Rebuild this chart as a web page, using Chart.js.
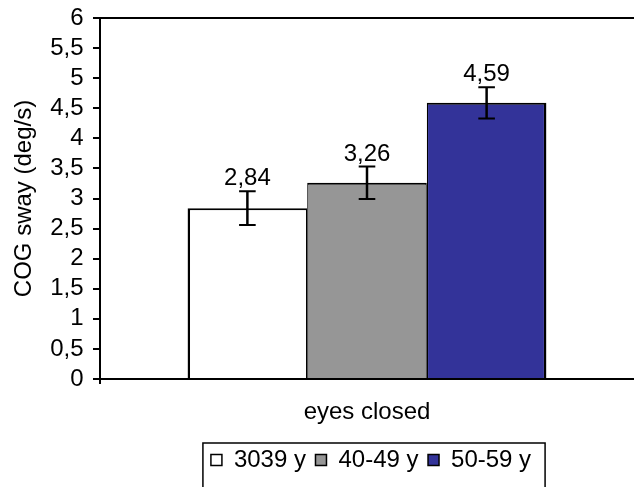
<!DOCTYPE html>
<html>
<head>
<meta charset="utf-8">
<script src="https://cdn.jsdelivr.net/npm/chart.js@4/dist/chart.umd.min.js"></script>
<style>
  html, body { margin: 0; padding: 0; background: #fff; }
  #chart { display: block; width: 634px; height: 487px; }
</style>
</head>
<body>
<canvas id="chart" width="634" height="487"></canvas>
<script>
// data
const categories = ["eyes closed"];
const groups = ["3039 y", "40-49 y", "50-59 y"];
const means = [2.84, 3.26, 4.59];
const errors = [0.28, 0.27, 0.26];
const fills = ["#ffffff", "#969696", "#333399"];

const SIZE = 24;
const FONT = "'Liberation Sans', Arial, Helvetica, sans-serif";

const fmt = v => String(v).replace(".", ",");

// borders: shared edges between neighbouring bars drawn once
const borders = [
  { left: 2.5, top: 2, right: 1.25, bottom: 0 },
  { left: 1.25, top: 2, right: 1.25, bottom: 0 },
  { left: 1.25, top: 2, right: 2.5, bottom: 0 }
];

const errorBars = {
  id: "errorBars",
  afterDatasetsDraw(chart) {
    const c = chart.ctx;
    const y = chart.scales.y;
    c.save();
    c.strokeStyle = "#000";
    c.fillStyle = "#000";
    c.font = SIZE + "px " + FONT;
    c.textAlign = "center";
    c.textBaseline = "alphabetic";
    chart.data.datasets.forEach((ds, i) => {
      const bar = chart.getDatasetMeta(i).data[0];
      const v = ds.data[0];
      const hi = y.getPixelForValue(v + errors[i]);
      const lo = y.getPixelForValue(v - errors[i]);
      c.lineWidth = 2.5;
      c.beginPath();
      c.moveTo(bar.x, hi);
      c.lineTo(bar.x, lo);
      c.stroke();
      c.lineWidth = 2;
      c.beginPath();
      c.moveTo(bar.x - 8.3, hi); c.lineTo(bar.x + 8.3, hi);
      c.moveTo(bar.x - 8.3, lo); c.lineTo(bar.x + 8.3, lo);
      c.stroke();
      c.fillText(fmt(v), bar.x, hi - 6);
    });
    c.restore();
  }
};

const frames = {
  id: "frames",
  afterLayout(chart) {
    // the source legend sits a little right of centre
    chart.legend.left += 4;
    chart.legend.right += 4;
  },
  afterDraw(chart) {
    const c = chart.ctx;
    const area = chart.chartArea;
    c.save();
    c.strokeStyle = "#000";
    c.lineWidth = 2;
    c.beginPath();
    c.moveTo(area.left, area.top);
    c.lineTo(area.right, area.top);
    c.stroke();
    // legend box, its bottom edge runs off the picture
    const boxes = chart.legend.legendHitBoxes;
    const first = boxes[0], last = boxes[boxes.length - 1];
    const x0 = first.left - 8;
    const x1 = last.left + last.width + 14;
    c.lineWidth = 1.5;
    c.strokeRect(x0, first.top - 5, x1 - x0, chart.height);
    c.restore();
  }
};

Chart.defaults.font.family = FONT;
Chart.defaults.font.size = SIZE;
Chart.defaults.color = "#000";

new Chart(document.getElementById("chart"), {
  type: "bar",
  data: {
    labels: categories,
    datasets: groups.map((g, i) => ({
      label: g,
      data: [means[i]],
      backgroundColor: fills[i],
      borderColor: "#000",
      borderWidth: borders[i]
    }))
  },
  options: {
    responsive: false,
    devicePixelRatio: 1,
    animation: false,
    layout: { padding: { top: 18, right: 0, bottom: 5, left: 0 } },
    datasets: { bar: { barPercentage: 1, categoryPercentage: 0.672 } },
    scales: {
      x: {
        grid: {
          drawOnChartArea: false,
          tickLength: 5,
          lineWidth: 2,
          color: c => (c.index === 0 ? "#000" : "rgba(0,0,0,0)")
        },
        border: { color: "#000", width: 2 },
        ticks: { padding: 14 },
        afterFit(s) { s.height = 59.5; }
      },
      y: {
        min: 0,
        max: 6,
        ticks: { stepSize: 0.5, autoSkip: false, padding: 9.5, callback: v => fmt(v) },
        grid: { drawOnChartArea: false, tickLength: 7, lineWidth: 2, color: "#000" },
        border: { color: "#000", width: 2 },
        title: { display: true, text: "COG sway (deg/s)", padding: { top: 10, bottom: 0 } },
        afterFit(s) {
          s.width = 100;
          s.paddingTop = 0;
          s.paddingBottom = 0;
        }
      }
    },
    plugins: {
      tooltip: { enabled: false },
      legend: {
        position: "bottom",
        fullSize: false,
        labels: {
          boxWidth: 11,
          boxHeight: 11,
          padding: 9.5,
          generateLabels(chart) {
            return Chart.defaults.plugins.legend.labels.generateLabels(chart)
              .map(l => Object.assign(l, { lineWidth: 1.5, strokeStyle: "#000" }));
          }
        }
      }
    }
  },
  plugins: [errorBars, frames]
});
</script>
</body>
</html>
